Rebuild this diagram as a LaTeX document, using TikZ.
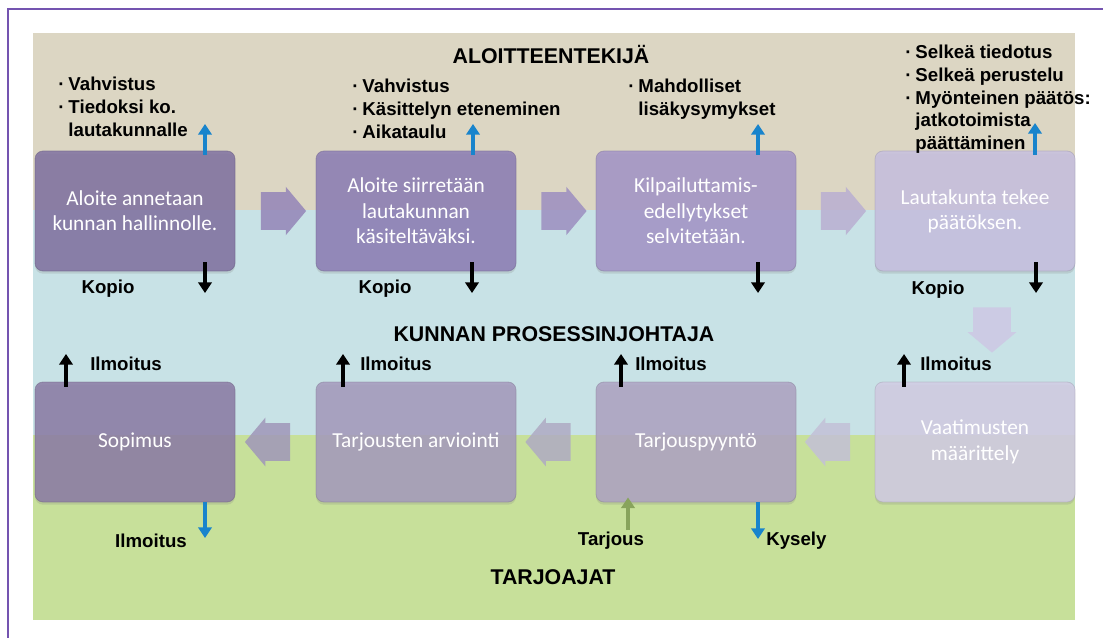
\documentclass[tikz,border=0pt]{standalone}
\usepackage{fontspec}
\setmainfont{Liberation Sans}
\newfontfamily\boxfont{Carlito}
\usetikzlibrary{shapes.arrows,calc,arrows.meta,shadows}

\definecolor{tanband}{HTML}{DCD6C3}
\definecolor{blueband}{HTML}{C8E2E6}
\definecolor{greenband}{HTML}{C7E09A}
\definecolor{framecol}{HTML}{7454B0}
\definecolor{arrblue}{HTML}{1884CC}
\definecolor{arrgreen}{HTML}{88A45C}
\definecolor{bxa}{HTML}{8071A1}
\definecolor{bxb}{HTML}{8C7DB4}
\definecolor{bxc}{HTML}{A394C7}
\definecolor{bxd}{HTML}{C7C0E0}
\definecolor{bxe}{HTML}{8B7BA5}
\definecolor{bxf}{HTML}{A59ABD}
\definecolor{bxg}{HTML}{AEA3C3}
\definecolor{bxh}{HTML}{D2CCE4}
\definecolor{cha}{HTML}{9484B8}
\definecolor{chb}{HTML}{9C8EC0}
\definecolor{chc}{HTML}{B9AFD2}
\definecolor{chd}{HTML}{CDC8E4}
\definecolor{che}{HTML}{C3C0D7}
\definecolor{chf}{HTML}{AFAAC3}
\definecolor{chg}{HTML}{A096B9}

\begin{document}
\begin{tikzpicture}[x=0.75pt,y=-0.75pt,
  stage/.style={rounded corners=6pt, minimum width=150pt, minimum height=90pt,
    draw=#1!80!black, draw opacity=0.5, line width=0.6pt, fill=#1, fill opacity=0.85, text opacity=1,
    text=white, font=\boxfont\fontsize{16}{19}\selectfont, align=center, inner sep=2pt,
    drop shadow={opacity=0.22, shadow xshift=0pt, shadow yshift=-2pt}},
  chev/.style={single arrow, fill=#1, fill opacity=0.85, draw=none, minimum height=34pt,
    inner xsep=0pt, inner ysep=14pt, single arrow head extend=4pt, single arrow tip angle=100},
  lbl/.style={font=\fontsize{14}{17}\selectfont\bfseries, inner sep=0pt},
  head/.style={font=\fontsize{16}{19}\selectfont\bfseries, inner sep=0pt},
  bullets/.style={font=\fontsize{14}{17}\selectfont\bfseries, inner sep=0pt, anchor=base west},
  upblue/.style={arrblue, line width=3pt, -{Triangle[width=10pt,length=8pt]}},
  upgreen/.style={arrgreen, line width=3pt, -{Triangle[width=10pt,length=8pt]}},
  blk/.style={black, line width=3pt, -{Triangle[width=10pt,length=8pt]}}
]
\useasboundingbox (0,0) rectangle (1103,638);
\fill[white] (0,0) rectangle (1103,638);

% bands
\fill[tanband] (33,33) rectangle (1075,210);
\fill[blueband] (33,210) rectangle (1075,435);
\fill[greenband] (33,435) rectangle (1075,620);

% frame
\draw[framecol, line width=1.5pt] (8,638) -- (8,9) -- (1103,9);

% headings
\node[head] (h1) at (551,54) {ALOITTEENTEKIJÄ};
\node[head] (h2) at (554,334) {KUNNAN PROSESSINJOHTAJA};
\node[head] (h3) at (553,577) {TARJOAJAT};

% boxes
\node[stage=bxa] (b1) at (135,211) {Aloite annetaan\\kunnan hallinnolle.};
\node[stage=bxb] (b2) at (416,211) {Aloite siirretään\\lautakunnan\\käsiteltäväksi.};
\node[stage=bxc] (b3) at (696,211) {Kilpailuttamis-\\edellytykset\\selvitetään.};
\node[stage=bxd] (b4) at (975,211) {Lautakunta tekee\\päätöksen.};
\node[stage=bxe] (b5) at (135,442) {Sopimus};
\node[stage=bxf] (b6) at (416,442) {Tarjousten arviointi};
\node[stage=bxg] (b7) at (696,442) {Tarjouspyyntö};
\node[stage=bxh] (b8) at (975,442) {Vaatimusten\\määrittely};

% chevrons
\node[chev=cha] (c1) at ($(b1.east)!0.5!(b2.west)$) {};
\node[chev=chb] (c2) at ($(b2.east)!0.5!(b3.west)$) {};
\node[chev=chc] (c3) at ($(b3.east)!0.5!(b4.west)$) {};
\node[chev=chd, rotate=-90] (c4) at (992,322) {};
\node[chev=che, rotate=180] (c5) at ($(b8.west)!0.5!(b7.east)$) {};
\node[chev=chf, rotate=180] (c6) at ($(b7.west)!0.5!(b6.east)$) {};
\node[chev=chg, rotate=180] (c7) at ($(b6.west)!0.5!(b5.east)$) {};

% bullet texts
\node[bullets] (n1) at (58,91) {\begin{tabular}[t]{@{}l@{\hspace{3pt}}l@{}}· & Vahvistus\\ · & Tiedoksi ko.\\ & lautakunnalle\end{tabular}};
\node[bullets] (n2) at (352,93) {\begin{tabular}[t]{@{}l@{\hspace{3pt}}l@{}}· & Vahvistus\\ · & Käsittelyn eteneminen\\ · & Aikataulu\end{tabular}};
\node[bullets] (n3) at (628,93) {\begin{tabular}[t]{@{}l@{\hspace{3pt}}l@{}}· & Mahdolliset\\ & lisäkysymykset\end{tabular}};
\node[bullets] (n4) at (905,59) {\begin{tabular}[t]{@{}l@{\hspace{3pt}}l@{}}· & Selkeä tiedotus\\ · & Selkeä perustelu\\ · & Myönteinen päätös:\\ & jatkotoimista\\ & päättäminen\end{tabular}};

% top-row small arrows
\coordinate (t1) at (205,124);
\coordinate (t2) at (473,124);
\coordinate (t3) at (758,124);
\coordinate (t4) at (1035,123);
\draw[upblue] ($(t1 |- b1.north)+(0,4)$) -- (t1);
\draw[upblue] ($(t2 |- b2.north)+(0,4)$) -- (t2);
\draw[upblue] ($(t3 |- b3.north)+(0,4)$) -- (t3);
\draw[upblue] ($(t4 |- b4.north)+(0,4)$) -- (t4);

\coordinate (k1) at (205,293);
\coordinate (k2) at (472,293);
\coordinate (k3) at (758,293);
\coordinate (k4) at (1036,293);
\draw[blk] ($(k1 |- b1.south)+(0,-9)$) -- (k1);
\draw[blk] ($(k2 |- b2.south)+(0,-9)$) -- (k2);
\draw[blk] ($(k3 |- b3.south)+(0,-9)$) -- (k3);
\draw[blk] ($(k4 |- b4.south)+(0,-9)$) -- (k4);

\node[lbl] (kp1) at (108,289) {Kopio};
\node[lbl] (kp2) at (385,289) {Kopio};
\node[lbl] (kp4) at (938,290) {Kopio};

% bottom-row small arrows
\coordinate (u5) at (66,354);
\coordinate (u6) at (343,354);
\coordinate (u7) at (621,354);
\coordinate (u8) at (904,354);
\draw[blk] ($(u5 |- b5.north)+(0,5)$) -- (u5);
\draw[blk] ($(u6 |- b6.north)+(0,5)$) -- (u6);
\draw[blk] ($(u7 |- b7.north)+(0,5)$) -- (u7);
\draw[blk] ($(u8 |- b8.north)+(0,5)$) -- (u8);

\node[lbl, anchor=west] (i5) at (90,364) {Ilmoitus};
\node[lbl, anchor=west] (i6) at (360,364) {Ilmoitus};
\node[lbl, anchor=west] (i7) at (635,364) {Ilmoitus};
\node[lbl, anchor=west] (i8) at (920,364) {Ilmoitus};

\coordinate (d5) at (205,538);
\coordinate (d7) at (758,539);
\coordinate (g7) at (628,530);
\draw[upblue] (d5 |- b5.south) -- (d5);
\draw[upblue] (d7 |- b7.south) -- (d7);
\draw[upgreen] (g7) -- ($(g7 |- b7.south)+(0,-5)$);

\node[lbl] (il5) at (151,541) {Ilmoitus};
\node[lbl] (tj7) at (611,541) {Tarjous};
\node[lbl, anchor=west] (ky7) at (766,541) {Kysely};
\end{tikzpicture}
\end{document}
